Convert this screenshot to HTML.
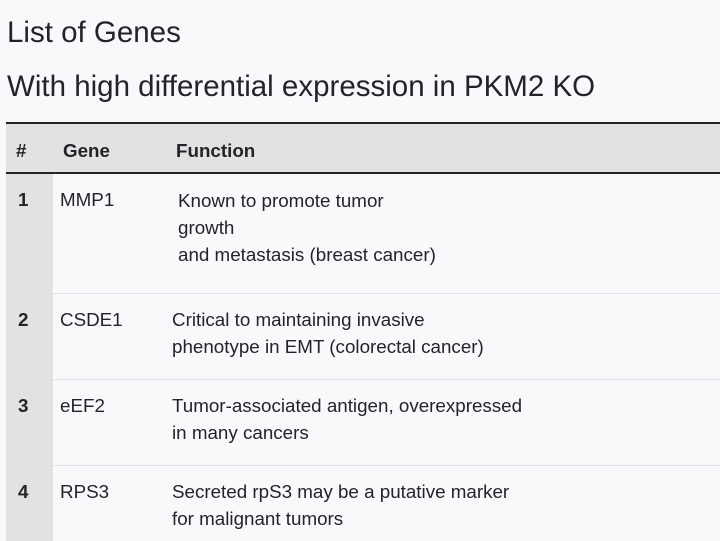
<!DOCTYPE html>
<html><head><meta charset="utf-8"><style>
body{margin:0;width:720px;height:541px;overflow:hidden;background:#f8f9fa;font-family:"Liberation Sans",sans-serif;color:#212529;position:relative}
.a{position:absolute;white-space:nowrap}
h1{position:absolute;margin:0;font-weight:normal;font-size:29.5px;left:7px;white-space:nowrap}
.t{font-size:18.8px;line-height:27px}
.b{font-weight:bold}
</style></head><body>
<h1 style="top:16px">List of Genes</h1>
<h1 style="top:70px">With high differential expression in PKM2 KO</h1>
<div>
<div class="a" style="left:6px;top:122px;width:714px;height:2px;background:#212529"></div>
<div class="a" style="left:6px;top:124px;width:714px;height:48px;background:#e2e2e2"></div>
<div class="a" style="left:6px;top:172px;width:714px;height:2px;background:#212529"></div>
<div class="a" style="left:6px;top:174px;width:47px;height:367px;background:#e2e2e2"></div>
<div class="a" style="left:53px;top:293px;width:667px;height:1px;background:#dee2e6"></div>
<div class="a" style="left:53px;top:379px;width:667px;height:1px;background:#dee2e6"></div>
<div class="a" style="left:53px;top:465px;width:667px;height:1px;background:#dee2e6"></div>
<div class="a t b" style="left:16px;top:137px">#</div>
<div class="a t b" style="left:63px;top:137px">Gene</div>
<div class="a t b" style="left:176px;top:137px">Function</div>

<div class="a t b" style="left:18px;top:186px">1</div>
<div class="a t" style="left:60px;top:186px">MMP1</div>
<div class="a t" style="left:178px;top:187px">Known to promote tumor<br>growth<br>and metastasis (breast cancer)</div>

<div class="a t b" style="left:18px;top:306px">2</div>
<div class="a t" style="left:60px;top:306px">CSDE1</div>
<div class="a t" style="left:172px;top:306px">Critical to maintaining invasive<br>phenotype in EMT (colorectal cancer)</div>

<div class="a t b" style="left:18px;top:392px">3</div>
<div class="a t" style="left:60px;top:392px">eEF2</div>
<div class="a t" style="left:172px;top:392px">Tumor-associated antigen, overexpressed<br>in many cancers</div>

<div class="a t b" style="left:18px;top:478px">4</div>
<div class="a t" style="left:60px;top:478px">RPS3</div>
<div class="a t" style="left:172px;top:478px">Secreted rpS3 may be a putative marker<br>for malignant tumors</div>
</div>
</body></html>
